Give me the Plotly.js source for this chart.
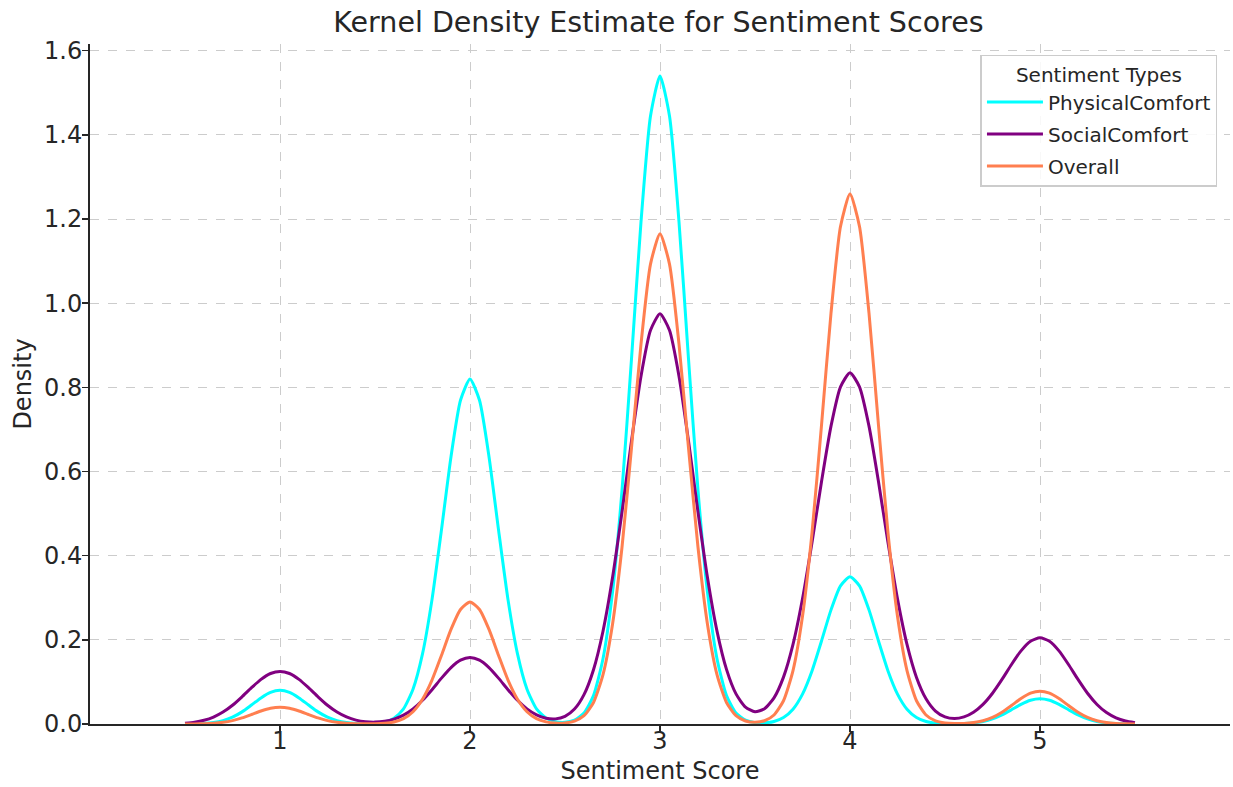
<!DOCTYPE html>
<html>
<head>
<meta charset="utf-8">
<script src="https://cdn.plot.ly/plotly-3.0.1.min.js"></script>
<style>html,body{margin:0;padding:0;background:#fff;}#chart{width:1233px;height:787px;}</style>
</head>
<body>
<div id="chart"></div>
<script>
const scores = [0.5,0.55,0.6,0.65,0.7,0.75,0.8,0.85,0.9,0.95,
1,1.05,1.1,1.15,1.2,1.25,1.3,1.35,1.4,1.45,
1.5,1.55,1.6,1.65,1.7,1.75,1.8,1.85,1.9,1.95,
2,2.05,2.1,2.15,2.2,2.25,2.3,2.35,2.4,2.45,
2.5,2.55,2.6,2.65,2.7,2.75,2.8,2.85,2.9,2.95,
3,3.05,3.1,3.15,3.2,3.25,3.3,3.35,3.4,3.45,
3.5,3.55,3.6,3.65,3.7,3.75,3.8,3.85,3.9,3.95,
4,4.05,4.1,4.15,4.2,4.25,4.3,4.35,4.4,4.45,
4.5,4.55,4.6,4.65,4.7,4.75,4.8,4.85,4.9,4.95,
5,5.05,5.1,5.15,5.2,5.25,5.3,5.35,5.4,5.45,5.5];

const physicalComfort = [0.0001,0.0005,0.0013,0.0035,0.0081,0.0162,0.0288,0.0451,0.0620,0.0751,
0.0800,0.0751,0.0620,0.0451,0.0288,0.0162,0.0081,0.0035,0.0014,0.0008,
0.0015,0.0047,0.0138,0.0360,0.0826,0.1665,0.2956,0.4619,0.6353,0.7693,
0.82,0.7693,0.6353,0.4619,0.2956,0.1665,0.0826,0.0360,0.0140,0.0054,
0.0040,0.0092,0.0261,0.0676,0.1551,0.3128,0.5552,0.8675,1.1932,1.4448,
1.54,1.4448,1.1932,0.8675,0.5552,0.3128,0.1551,0.0676,0.0260,0.0090,
0.0032,0.0027,0.0061,0.0154,0.0352,0.0711,0.1262,0.1972,0.2712,0.3284,
0.35,0.3284,0.2712,0.1972,0.1262,0.0711,0.0352,0.0154,0.0059,0.0020,
0.0007,0.0005,0.0010,0.0026,0.0060,0.0122,0.0216,0.0338,0.0465,0.0563,
0.06,0.0563,0.0465,0.0338,0.0216,0.0122,0.0060,0.0026,0.0010,0.0003,0.0001];

const socialComfort = [0.0020,0.0044,0.0089,0.0165,0.0283,0.0445,0.0646,0.0862,0.1060,0.1200,
0.125,0.1200,0.1060,0.0862,0.0646,0.0445,0.0283,0.0167,0.0093,0.0055,
0.0045,0.0064,0.0116,0.0210,0.0357,0.0563,0.0816,0.1090,0.1340,0.1516,
0.158,0.1516,0.1340,0.1090,0.0816,0.0564,0.0360,0.0218,0.0138,0.0122,
0.0182,0.0355,0.0698,0.1291,0.2205,0.3473,0.5037,0.6724,0.8266,0.9356,
0.975,0.9356,0.8266,0.6724,0.5037,0.3474,0.2208,0.1298,0.0716,0.0400,
0.0291,0.0361,0.0620,0.1114,0.1892,0.2975,0.4314,0.5758,0.7079,0.8013,
0.835,0.8013,0.7079,0.5758,0.4314,0.2974,0.1890,0.1107,0.0600,0.0308,
0.0167,0.0129,0.0168,0.0279,0.0466,0.0731,0.1059,0.1414,0.1738,0.1967,
0.205,0.1967,0.1738,0.1414,0.1059,0.0730,0.0464,0.0271,0.0146,0.0072,0.0033];

const overall = [0.0001,0.0002,0.0007,0.0018,0.0040,0.0081,0.0144,0.0225,0.0310,0.0375,
0.04,0.0375,0.0310,0.0225,0.0144,0.0081,0.0040,0.0018,0.0007,0.0004,
0.0006,0.0017,0.0049,0.0127,0.0292,0.0589,0.1045,0.1634,0.2247,0.2721,
0.29,0.2721,0.2247,0.1634,0.1045,0.0589,0.0292,0.0127,0.0050,0.0022,
0.0025,0.0068,0.0197,0.0511,0.1173,0.2366,0.4200,0.6562,0.9026,1.0930,
1.165,1.0930,0.9026,0.6562,0.4200,0.2366,0.1173,0.0511,0.0198,0.0072,
0.0041,0.0077,0.0214,0.0553,0.1269,0.2559,0.4542,0.7098,0.9762,1.1821,
1.26,1.1821,0.9762,0.7098,0.4542,0.2559,0.1269,0.0553,0.0213,0.0072,
0.0023,0.0010,0.0014,0.0034,0.0079,0.0158,0.0281,0.0439,0.0604,0.0732,
0.078,0.0732,0.0604,0.0439,0.0281,0.0158,0.0079,0.0034,0.0013,0.0004,0.0001];

const seriesNames = ['PhysicalComfort','SocialComfort','Overall'];
const seriesColors = ['#00FFFF','#800080','#FF7F50'];
const seriesValues = [physicalComfort, socialComfort, overall];
const xTicks = [1,2,3,4,5];
const yTicks = [0,0.2,0.4,0.6,0.8,1.0,1.2,1.4,1.6];
const yTickLabels = ['0.0','0.2','0.4','0.6','0.8','1.0','1.2','1.4','1.6'];

const traces = seriesNames.map((n,i)=>({
  type:'scatter', mode:'lines', name:n, legendgroup:'g'+i, x:scores, y:seriesValues[i],
  line:{color:seriesColors[i], width:3, shape:'spline', smoothing:0.6}
}));

const font = 'DejaVu Sans, sans-serif';
const layout = {
  width:1233, height:787,
  margin:{l:90, r:3, t:44, b:63},
  paper_bgcolor:'#fff', plot_bgcolor:'#fff',
  font:{family:font, color:'#262626'},
  title:{text:'Kernel Density Estimate for Sentiment Scores', font:{size:28.5, color:'#262626', family:font}, x:0.534, xanchor:'center', y:0.972, yanchor:'middle', xref:'container', yref:'container'},
  xaxis:{range:[0,6], tickvals:xTicks, ticks:'outside', ticklen:6, tickwidth:1.5, tickcolor:'#262626',
    showline:true, linecolor:'#262626', linewidth:2, zeroline:false,
    showgrid:true, gridcolor:'#cccccc', griddash:'dash', gridwidth:1,
    tickfont:{size:24, color:'#262626'}, ticklabelstandoff:-12,
    title:{text:'Sentiment Score', font:{size:24, color:'#262626'}, standoff:8}},
  yaxis:{range:[0,1.616], tickvals:yTicks, ticktext:yTickLabels, ticks:'outside', ticklen:6, tickwidth:1.5, tickcolor:'#262626',
    showline:true, linecolor:'#262626', linewidth:2, zeroline:false,
    showgrid:true, gridcolor:'#cccccc', griddash:'dash', gridwidth:1,
    tickfont:{size:24, color:'#262626'}, ticklabelstandoff:-5,
    title:{text:'Density', font:{size:24, color:'#262626'}, standoff:6}},
  legend:{x:0.989, y:0.984, xanchor:'right', yanchor:'top', bgcolor:'rgba(255,255,255,0.85)',
    bordercolor:'#cccccc', borderwidth:1.5, font:{size:20, color:'#262626'}, itemwidth:56, tracegroupgap:3,
    title:{text:'Sentiment Types', side:'top center', font:{size:20, color:'#262626'}}},
  showlegend:true
};
Plotly.newPlot('chart', traces, layout, {displayModeBar:false, staticPlot:true});
</script>
</body>
</html>
